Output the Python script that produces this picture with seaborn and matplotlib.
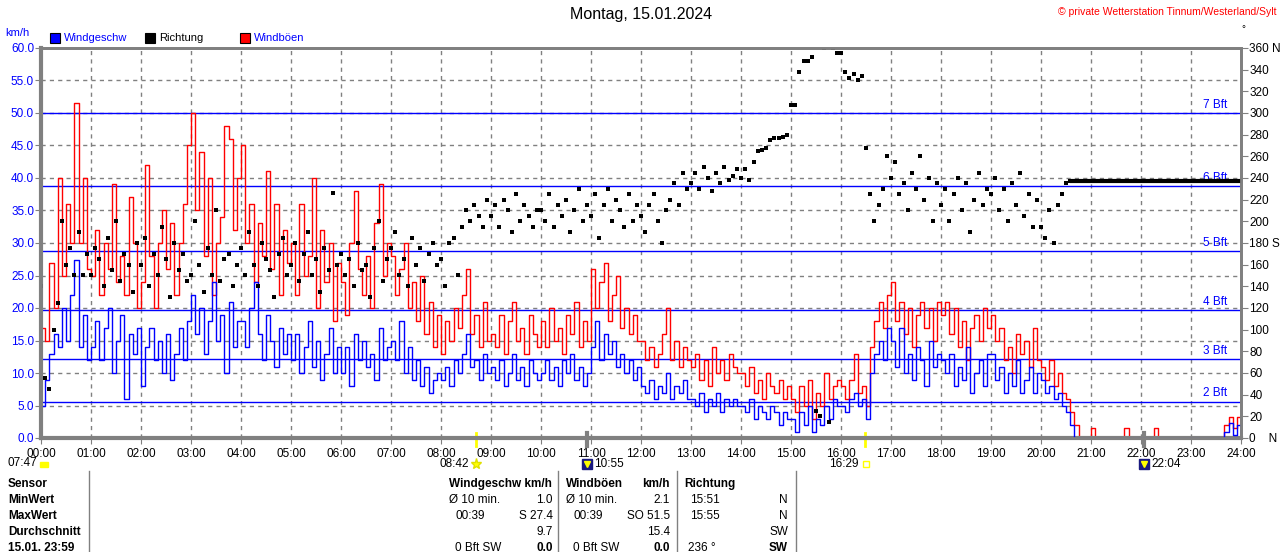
import numpy as np
import pandas as pd
import seaborn as sns
import matplotlib.pyplot as plt
from matplotlib.lines import Line2D
from matplotlib.patches import Rectangle

# 5-minute readings, 00:00 ... 24:00 (one row per hour + final value)
gust = [
    17, 15, 27, 20, 40, 25, 36, 30, 51.5, 30, 40, 26,
    25, 32, 22, 30, 26, 39, 24, 28, 22, 37, 30, 20,
    24, 42, 28, 20, 30, 35, 26, 33, 22, 30, 36, 45,
    50, 35, 44, 28, 40, 22, 30, 34, 48, 46, 32, 40,
    45, 30, 36, 24, 33, 28, 41, 26, 36, 22, 32, 27,
    30, 22, 36, 25, 28, 40, 20, 32, 24, 30, 18, 27,
    24, 19, 30, 38, 26, 22, 28, 20, 33, 39, 25, 30,
    28, 22, 26, 30, 20, 24, 18, 25, 16, 21, 14, 19,
    13, 18, 15, 20, 17, 22, 26, 16, 19, 14, 21, 15,
    16, 14, 19, 13, 18, 21, 15, 17, 13, 19, 16, 14,
    18, 14, 20, 15, 17, 13, 19, 16, 21, 14, 18, 15,
    26, 20, 24, 27, 18, 22, 25, 17, 20, 16, 19, 15,
    15, 12, 14, 11, 13, 16, 20, 12, 15, 11, 14, 12,
    11, 13, 9, 12, 8, 14, 10, 12, 9, 13, 11, 10,
    10, 8, 11, 7, 9, 6, 10, 8, 7, 9, 6, 8,
    6, 4, 8, 5, 9, 3, 7, 5, 10, 6, 8, 9,
    8, 6, 9, 13, 7, 8, 5, 14, 18, 21, 17, 22,
    24, 18, 21, 16, 20, 14, 19, 21, 17, 20, 15, 21,
    19, 21, 16, 20, 14, 18, 12, 17, 19, 15, 20, 17,
    19, 15, 17, 12, 14, 10, 16, 13, 15, 11, 17, 12,
    11, 9, 12, 8, 10, 7, 6, 4, 2, 0, 0, 0,
    1.5, 0, 0, 0, 0, 0, 0, 0, 1.5, 0, 0, 0,
    0, 0, 0, 1.5, 0, 0, 0, 0, 0, 0, 0, 0,
    0, 0, 0, 0, 0, 0, 0, 0, 2, 3.3, 1.5, 3.3,
    2,
]

speed = [
    5, 9, 13, 16, 14, 20, 15, 22, 27.4, 14, 19, 12,
    14, 18, 12, 17, 20, 10, 15, 19, 6, 16, 13, 17,
    8, 14, 17, 12, 15, 10, 16, 9, 13, 17, 12, 18,
    22, 16, 20, 13, 18, 24, 15, 19, 10, 21, 14, 18,
    18, 14, 20, 24, 16, 12, 19, 15, 11, 17, 13, 16,
    12, 16, 10, 14, 18, 11, 15, 9, 13, 17, 10, 14,
    10, 14, 8, 16, 12, 15, 11, 13, 9, 17, 12, 14,
    15, 12, 18, 10, 14, 9, 12, 8, 11, 7, 9, 10,
    9, 11, 8, 12, 10, 13, 16, 11, 12, 9, 13, 10,
    11, 9, 12, 8, 10, 13, 9, 11, 8, 12, 10, 9,
    10, 12, 9, 11, 8, 12, 10, 13, 9, 11, 8, 10,
    14, 18, 12, 16, 13, 15, 11, 13, 10, 12, 9, 11,
    8, 7, 9, 6, 8, 7, 10, 6, 8, 7, 9, 6,
    6, 5, 7, 4, 6, 5, 7, 4, 6, 5, 6, 5,
    5, 4, 6, 3, 5, 4, 3, 5, 4, 2, 4, 3,
    3, 1, 4, 2, 5, 1, 3, 2, 5, 3, 6, 5,
    5, 4, 6, 7, 5, 6, 3, 10, 13, 15, 12, 17,
    15, 11, 17, 10, 13, 9, 14, 12, 8, 15, 11, 13,
    12, 10, 13, 8, 11, 9, 14, 7, 10, 12, 8, 13,
    13, 9, 11, 7, 10, 8, 12, 7, 9, 11, 7, 10,
    9, 7, 8, 6, 7, 5, 4, 2, 0, 0, 0, 0,
    0, 0, 0, 0, 0, 0, 0, 0, 0, 0, 0, 0,
    0, 0, 0, 0, 0, 0, 0, 0, 0, 0, 0, 0,
    0, 0, 0, 0, 0, 0, 0, 0, 1, 2.3, 0.5, 2,
    1,
]

direction = [
    140, 55, 45, 100, 125, 200, 160, 175, 150, 190, 150, 170,
    150, 175, 165, 140, 185, 155, 200, 145, 170, 160, 135, 180,
    160, 185, 140, 170, 150, 195, 165, 130, 180, 155, 170, 145,
    150, 200, 160, 135, 175, 150, 210, 145, 165, 170, 140, 160,
    175, 150, 190, 160, 140, 180, 165, 155, 130, 170, 185, 150,
    160, 180, 145, 170, 190, 150, 165, 135, 175, 155, 226, 160,
    170, 150, 165, 140, 180, 155, 160, 130, 175, 200, 145, 165,
    175, 190, 150, 165, 140, 185, 160, 175, 145, 170, 180, 160,
    165, 140, 180, 185, 150, 195, 210, 200, 215, 205, 195, 220,
    205, 215, 195, 220, 210, 190, 225, 200, 215, 205, 195, 210,
    210, 200, 225, 195, 215, 205, 220, 190, 210, 230, 200, 215,
    205, 225, 185, 215, 230, 200, 220, 210, 195, 225, 200, 215,
    205, 190, 215, 225, 200, 180, 210, 220, 235, 215, 245, 230,
    235, 245, 230, 250, 240, 228, 245, 235, 250, 238, 242, 248,
    240, 248, 238, 255, 265, 266, 268, 275, 277, 277, 278, 280,
    307, 307, 338, 348, 348, 352, 25, 20, 360, 15, 360, 355,
    355, 338, 332, 336, 330, 334, 268, 225, 200, 215, 230, 260,
    240, 255, 225, 235, 210, 245, 230, 260, 220, 240, 200, 235,
    215, 230, 200, 225, 240, 210, 235, 190, 220, 245, 215, 230,
    225, 240, 210, 230, 200, 235, 215, 245, 205, 225, 195, 220,
    195, 185, 210, 180, 215, 225, 235, 237, 237, 237, 237, 237,
    237, 237, 237, 237, 237, 237, 237, 237, 237, 237, 237, 237,
    237, 237, 237, 237, 237, 237, 237, 237, 237, 237, 237, 237,
    237, 237, 237, 237, 237, 237, 237, 237, 237, 237, 237, 237,
    237,
]

bft_limits = [5.6, 12.1, 19.7, 28.7, 38.7, 50.0]
bft_labels = ["2 Bft", "3 Bft", "4 Bft", "5 Bft", "6 Bft", "7 Bft"]

hour_labels = [f"{h:02d}:00" for h in range(25)]
dir_ticks = list(range(0, 361, 20))
dir_labels = [str(d) for d in dir_ticks]
dir_labels[0] = "0    N"
dir_labels[9] = "180 S"
dir_labels[18] = "360 N"

# (time, kind) sun / moon events shown under the axis
astro = [("08:42", "sunrise"), ("10:55", "moonrise"), ("16:29", "sunset"), ("22:04", "moonset")]

table_rows = ["Sensor", "MinWert", "MaxWert", "Durchschnitt", "15.01. 23:59"]

W, H = 1280, 552
plt.rcParams['font.family'] = ['Liberation Sans', 'DejaVu Sans']

df = pd.DataFrame({
    "t": np.arange(len(gust)) * 5 / 60,
    "gust": gust,
    "speed": speed,
    "dir": direction,
})

fig = plt.figure(figsize=(W / 100, H / 100), dpi=100)
ax = fig.add_axes([41 / W, 1 - 438 / H, 1200 / W, 390 / H])
ax2 = ax.twinx()

def px(x, y):
    return x / W, 1 - y / H

# grid
grid_kw = dict(color="#808080", lw=1, ls=(0, (3, 3)), zorder=0)
for h in range(1, 24):
    ax.axvline(h, **grid_kw)
for v in range(5, 60, 5):
    ax.axhline(v, **grid_kw)

# beaufort lines
for lim, lab in zip(bft_limits, bft_labels):
    ax.axhline(lim, color="#0000ff", lw=1, zorder=1)
    ax.text(23.72, lim + 0.35, lab, color="#0000ff", fontsize=8.5, ha="right", va="bottom")

sns.lineplot(data=df, x="t", y="gust", ax=ax, color="#ff0000", lw=1,
             drawstyle="steps-post", legend=False, zorder=2)
sns.lineplot(data=df, x="t", y="speed", ax=ax, color="#0000ff", lw=1,
             drawstyle="steps-post", legend=False, zorder=3)

sns.scatterplot(data=df, x="t", y="dir", ax=ax2, marker="s", s=5, color="black",
                linewidth=0, legend=False)
tail = df[(df["t"] >= 20.5) & (df["dir"] == 237)]
ax2.plot(tail["t"], tail["dir"], color="black", lw=3, solid_capstyle="butt")

ax.set_xlim(0, 24)
ax.set_ylim(0, 60)
ax2.set_ylim(0, 360)
ax.set_xlabel("")
ax.set_ylabel("")
ax2.set_ylabel("")

ax.set_xticks(range(25))
ax.set_xticklabels(hour_labels)
ax.set_yticks(range(0, 61, 5))
ax.set_yticklabels([f"{v:.1f}" for v in range(0, 61, 5)])
ax2.set_yticks(dir_ticks)
ax2.set_yticklabels(dir_labels)

ax.tick_params(axis="x", length=4, color="#808080", labelsize=8.5, pad=3)
ax.tick_params(axis="y", length=4, color="#808080", labelsize=8.5, labelcolor="#0000ff", pad=1)
ax2.tick_params(axis="y", length=5, color="#808080", labelsize=8.5, pad=1)

for a in (ax, ax2):
    for sp in a.spines.values():
        sp.set_color("#808080")
        sp.set_linewidth(2)
ax.spines["left"].set_linewidth(3)
ax.spines["bottom"].set_linewidth(3)

# sun / moon markers
xt = ax.get_xaxis_transform()
for tm, kind in astro:
    hh, mm = map(int, tm.split(":"))
    t = hh + mm / 60
    if kind in ("sunrise", "sunset"):
        ax.plot([t, t], [-0.02, 0.014], transform=xt, color="#ffff00", lw=2, clip_on=False)
    else:
        ax.plot([t, t], [-0.02, 0.014], transform=xt, color="#808080", lw=3, clip_on=False)
    if kind == "sunrise":
        ax.plot(t, -0.066, transform=xt, marker="*", ms=8, color="#ffff00", mec="#e0e000", clip_on=False)
        ax.text(t - 0.13, -0.066, tm, transform=xt, ha="right", va="center", fontsize=8.5)
    elif kind == "sunset":
        ax.plot(t + 0.02, -0.066, transform=xt, marker="s", ms=5, mfc="none", mec="#ffff00", clip_on=False)
        ax.text(t - 0.13, -0.066, tm, transform=xt, ha="right", va="center", fontsize=8.5)
    else:
        ax.plot(t, -0.066, transform=xt, marker="s", ms=7, color="#1a1a80", clip_on=False)
        ax.plot(t, -0.066, transform=xt, marker="v", ms=4, color="#ffff00", clip_on=False)
        ax.text(t + 0.14, -0.066, tm, transform=xt, ha="left", va="center", fontsize=8.5)

fig.text(*px(8, 463), "07:47", ha="left", va="center", fontsize=8.5)
fig.add_artist(Rectangle(px(40, 467), 8 / W, 5 / H, color="#ffff00"))

# header texts
fig.text(*px(641, 15), "Montag, 15.01.2024", ha="center", va="center", fontsize=11.5)
fig.text(*px(1276, 12), "© private Wetterstation Tinnum/Westerland/Sylt", ha="right",
         va="center", fontsize=7.5, color="#ff0000")
fig.text(*px(5, 33), "km/h", ha="left", va="center", fontsize=8, color="#0000ff")
fig.text(*px(1243, 29), "°", ha="center", va="center", fontsize=7)

legend_items = [(50, "#0000ff", "Windgeschw", "#0000ff"),
                (145, "#000000", "Richtung", "#000000"),
                (240, "#ff0000", "Windböen", "#0000ff")]
for x0, c, lab, tc in legend_items:
    fig.add_artist(Rectangle(px(x0, 43), 10 / W, 10 / H, facecolor=c, edgecolor="black", lw=0.8))
    fig.text(*px(x0 + 14, 38), lab, ha="left", va="center", fontsize=8, color=tc)

# statistics table
for xs in (89, 558, 677, 796):
    fig.add_artist(Line2D([xs / W, xs / W], [1 - 471 / H, 0], color="#808080", lw=1))

row_y = [484, 500, 516, 532, 548]
for y, lab in zip(row_y, table_rows):
    fig.text(*px(8, y), lab, ha="left", va="center", fontsize=8.5, fontweight="bold")

cells = [
    (449, 484, "Windgeschw km/h", "left", True),
    (449, 500, "Ø 10 min.", "left", False), (553, 500, "1.0", "right", False),
    (455, 516, "00:39", "left", False), (553, 516, "S 27.4", "right", False),
    (553, 532, "9.7", "right", False),
    (455, 548, "0 Bft SW", "left", False), (553, 548, "0.0", "right", True),
    (566, 484, "Windböen", "left", True), (670, 484, "km/h", "right", True),
    (566, 500, "Ø 10 min.", "left", False), (670, 500, "2.1", "right", False),
    (573, 516, "00:39", "left", False), (670, 516, "SO 51.5", "right", False),
    (670, 532, "15.4", "right", False),
    (573, 548, "0 Bft SW", "left", False), (670, 548, "0.0", "right", True),
    (684, 484, "Richtung", "left", True),
    (690, 500, "15:51", "left", False), (788, 500, "N", "right", False),
    (690, 516, "15:55", "left", False), (788, 516, "N", "right", False),
    (788, 532, "SW", "right", False),
    (688, 548, "236 °", "left", False), (788, 548, "SW", "right", True),
]
for x, y, s, ha, bold in cells:
    fig.text(*px(x, y), s, ha=ha, va="center", fontsize=8.5,
             fontweight="bold" if bold else "normal")

fig.savefig("out.png", dpi=100, facecolor="white")
